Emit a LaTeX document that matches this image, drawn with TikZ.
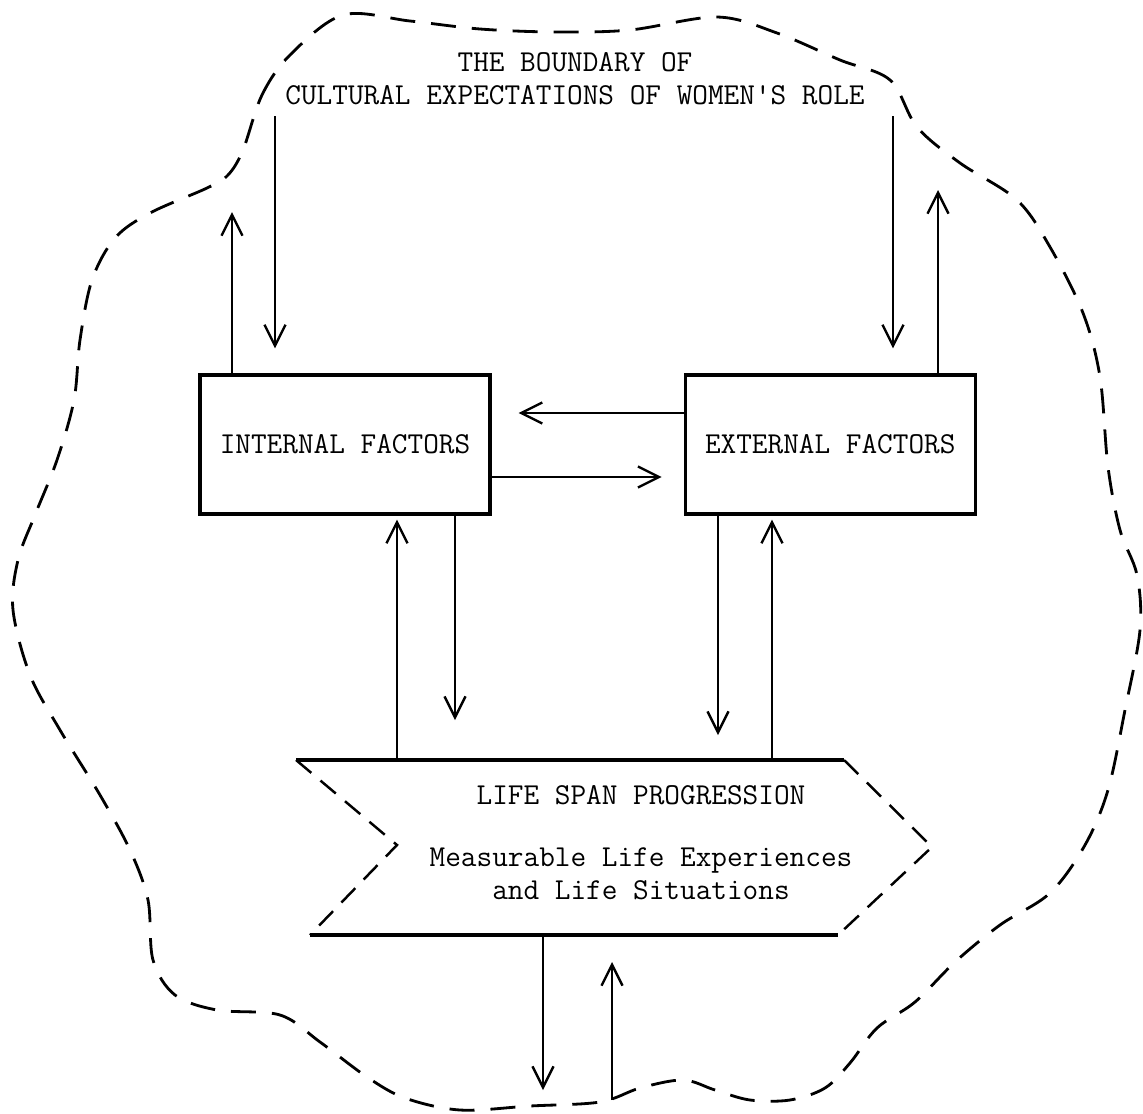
\documentclass[tikz,border=0pt]{standalone}
\usepackage{fontspec}
\usetikzlibrary{arrows.meta, positioning}

\begin{document}
\begin{tikzpicture}[
    x=0.02cm, y=-0.02cm,
    typed/.style={font=\ttfamily\fontsize{17.3}{18.8}\selectfont, align=center, inner sep=0pt},
    factor/.style={rectangle, draw, line width=1.9pt, minimum width=5.8cm, minimum height=2.78cm, typed},
    arrow/.style={-{Straight Barb[length=0.42cm, width=0.42cm]}, line width=1.35pt},
    boundary/.style={line width=1.6pt, dash pattern=on 0.5cm off 0.32cm},
    edge/.style={line width=1.4pt, dash pattern=on 0.4cm off 0.24cm},
    rim/.style={line width=1.9pt}
]
    \useasboundingbox (0,0) rectangle (1143,1113);

    % Boundary
    \draw[boundary] plot[smooth cycle, tension=0.55] coordinates {
        (243,150) (262,95) (290,55) (343,15) (410,21) (480,29) (555,32) (630,30)
        (717,17) (777,33) (840,60) (890,80) (917,127) (960,163) (1017,200) (1050,247)
        (1083,313) (1100,377) (1108,467) (1120,530) (1137,575) (1140,630) (1125,710)
        (1108,790) (1085,845) (1050,893) (1000,925) (955,962) (915,1002) (877,1028)
        (850,1063) (825,1088) (790,1100) (750,1100) (715,1090) (683,1080) (640,1088)
        (600,1102) (530,1106) (460,1110) (405,1098) (367,1077) (320,1042) (280,1015)
        (217,1010) (175,995) (153,960) (148,900) (130,850) (100,795) (60,730) (30,675)
        (13,610) (18,560) (35,515) (57,460) (74,400) (80,340) (92,280) (115,238)
        (150,213) (207,188) (228,175)};

    \node[typed] (title) at (575,78.5) {THE BOUNDARY OF\\CULTURAL EXPECTATIONS OF WOMEN'S ROLE};

    % Factors
    \node[factor] (internal) at (345,444.5) {INTERNAL FACTORS};
    \node[factor, right=3.84cm of internal] (external) {EXTERNAL FACTORS};

    % Life span progression
    \coordinate (lsp-tl) at (296,760);
    \coordinate (lsp-tr) at (844,760);
    \coordinate (lsp-tip) at (932,847);
    \coordinate (lsp-br) at (838,935);
    \coordinate (lsp-bl) at (310,935);
    \coordinate (lsp-notch) at (397,845);
    \draw[rim] (lsp-tl) -- (lsp-tr);
    \draw[rim] (lsp-bl) -- (lsp-br);
    \draw[edge] (lsp-tl) -- (lsp-notch) -- (lsp-bl);
    \draw[edge] (lsp-tr) -- (lsp-tip) -- (lsp-br);
    \node[typed] (lsp) at (641,842.5) {LIFE SPAN PROGRESSION\\[0.58cm]Measurable Life Experiences\\and Life Situations};

    % Free ends on the boundary
    \coordinate (int-out) at (232,212);
    \coordinate (ext-out) at (938,190);
    \coordinate (lsp-out) at (543,1090);
    \coordinate (lsp-in) at (612,1100);

    % Relationships
    \draw[arrow] (internal.north -| int-out) -- (int-out);
    \draw[arrow, shorten <=0.22cm, shorten >=0.5cm] (title.south -| 275,0) -- (internal.north -| 275,0);
    \draw[arrow, shorten <=0.22cm, shorten >=0.5cm] (title.south -| 893,0) -- (external.north -| 893,0);
    \draw[arrow] (external.north -| ext-out) -- (ext-out);
    \draw[arrow, shorten >=0.54cm] (external.west |- 0,413) -- (internal.east |- 0,413);
    \draw[arrow, shorten >=0.44cm] (internal.east |- 0,477) -- (external.west |- 0,477);
    \draw[arrow, shorten >=0.8cm] (internal.south -| 455,0) -- (lsp-tl -| 455,0);
    \draw[arrow, shorten >=0.08cm] (lsp-tl -| 397,0) -- (internal.south -| 397,0);
    \draw[arrow, shorten >=0.5cm] (external.south -| 718,0) -- (lsp-tl -| 718,0);
    \draw[arrow, shorten >=0.08cm] (lsp-tl -| 772,0) -- (external.south -| 772,0);
    \draw[arrow] (lsp-bl -| lsp-out) -- (lsp-out);
    \draw[arrow, shorten >=0.54cm] (lsp-in) -- (lsp-bl -| lsp-in);
\end{tikzpicture}
\end{document}
